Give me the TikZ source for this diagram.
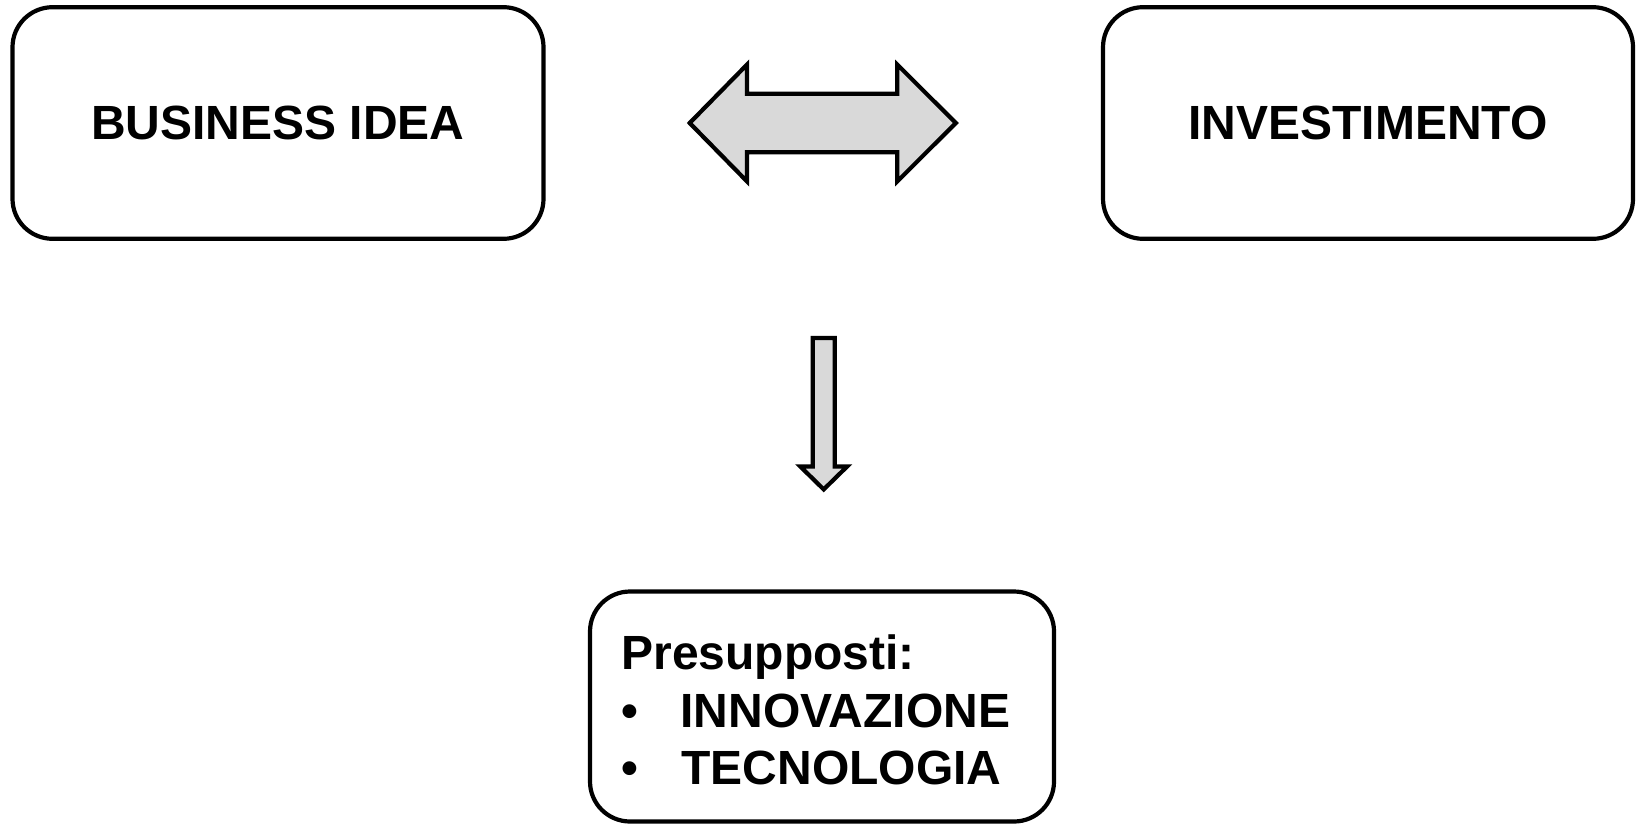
\documentclass[tikz,border=0pt]{standalone}
\usepackage{fontspec}
\setmainfont{Liberation Sans}

\begin{document}
\begin{tikzpicture}[x=0.5pt, y=-0.5pt,
    box/.style ={rectangle, rounded corners=20pt, draw, line width=2.1pt, fill=white,
                 font=\fontsize{24}{28}\selectfont\bfseries, inner sep=0pt},
    txt/.style ={font=\fontsize{24}{28}\selectfont\bfseries, inner sep=0pt},
    blockarrow/.style ={draw, line width=2.1pt, line join=miter, fill=black!15}]
   \useasboundingbox (0,0) rectangle (1636,824);

   \node[box, minimum width=265.5pt, minimum height=115.8pt] (idea) at (278,123) {BUSINESS IDEA};
   \node[box, minimum width=265pt, minimum height=115.8pt] (inv) at (1368,123) {INVESTIMENTO};
   \node[box, minimum width=232pt, minimum height=115pt] (pres) at (822,706.5) {};

   \node[txt, anchor=base west] (pre) at (621,669) {Presupposti:};
   \node[txt, anchor=base] (b1) at (630,727) {•};
   \node[txt, anchor=base west] (inn) at (680,727) {INNOVAZIONE};
   \node[txt, anchor=base] (b2) at (630,784) {•};
   \node[txt, anchor=base west] (tec) at (681,784) {TECNOLOGIA};

   % double arrow between the boxes
   \draw[blockarrow] (689.7,123) -- (747,64.6) -- (747,93.8) -- (897.3,93.8) -- (897.3,64.6)
      -- (955.8,123) -- (897.3,181.4) -- (897.3,152.2) -- (747,152.2) -- (747,181.4) -- cycle;

   % arrow down to the box
   \draw[blockarrow] (812.8,338) -- (834.7,338) -- (834.7,466.4) -- (847.2,466.4)
      -- (823.7,489.4) -- (800.2,466.4) -- (812.8,466.4) -- cycle;

\end{tikzpicture}
\end{document}
